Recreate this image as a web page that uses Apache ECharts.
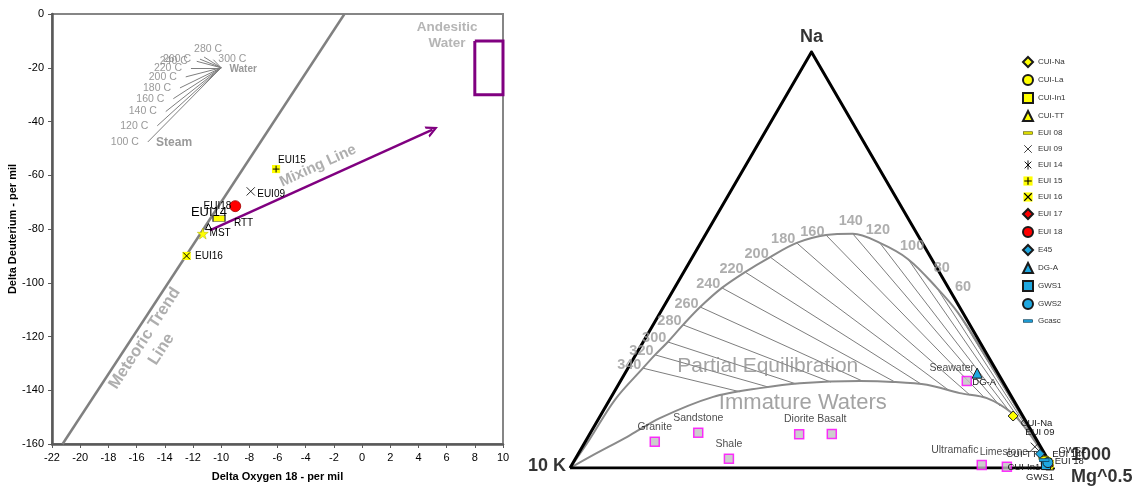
<!DOCTYPE html>
<html>
<head>
<meta charset="utf-8">
<title>Isotopes and Na-K-Mg diagram</title>
<script src="https://cdn.jsdelivr.net/npm/echarts@6.0.0/dist/echarts.min.js"></script>
<style>
html,body{margin:0;padding:0;background:#fff;}
#chart{width:1139px;height:487px;}
</style>
</head>
<body>
<div id="chart"></div>
<script>
// ---------- Stable isotopes: delta 18O vs delta D (per mil) ----------
const o18Axis = [-22, 10, 2];     // min, max, step
const ddAxis = [-160, 0, 20];

const sampleNames = ['EUI15', 'EUI09', 'EUI18', 'EUI14', 'RTT', 'MST', 'EUI16'];
const sampleO18 = [-6.1, -7.9, -9.0, -10.15, -10.9, -11.3, -12.45];
const sampleDD = [-57.7, -66.0, -71.5, -76.1, -79.1, -81.7, -90.0];

const meteoricO18 = [-21.25, -1.25];
const meteoricDD = [-160, 0];

const mixingO18 = [-10.8, 5.0];
const mixingDD = [-80.5, -43.0];

const andesiticO18 = [8, 10];
const andesiticDD = [-30, -10];

const waterO18 = -10.0;
const waterDD = -20.0;
const steamTemps = [100, 120, 140, 160, 180, 200, 220, 240, 260, 280, 300];
const steamO18 = [-15.2, -14.53, -13.93, -13.39, -12.92, -12.51, -12.14, -11.73, -11.5, -11.21, -10.55];
const steamDD = [-47.6, -41.6, -36.3, -31.5, -27.5, -23.4, -20.1, -17.6, -16.8, -16.0, -17.0];

// ---------- Na/1000 - K/100 - Mg^0.5 ternary (percent: [Na, K, Mg]) ----------
const fullEqHead = [[0, 100, 0], [6.7, 92.7, 0.6], [16.4, 82.5, 1.1]];
const isothermTemps = [340, 320, 300, 280, 260, 240, 220, 200, 180, 160, 140, 120, 100, 80, 60];
const isothermPoints = [
  [24.0, 72.9, 3.1], [27.2, 68.8, 4.0], [30.3, 64.6, 5.1], [34.4, 59.4, 6.2], [38.7, 53.7, 7.6],
  [43.3, 46.9, 9.8], [47.1, 40.2, 12.7], [50.7, 33.2, 16.1], [54.1, 26.0, 19.9], [56.0, 19.0, 25.0],
  [56.3, 13.3, 30.4], [54.1, 8.8, 37.1], [50.2, 4.9, 44.9], [43.3, 2.4, 54.3], [37.3, 1.0, 61.7]
];
const fullEqTail = [[27.2, 0.5, 72.3], [17.6, 0.3, 82.1], [9.1, 0.2, 90.7], [0, 0, 100]];

const immatureCurve = [
  [0, 100, 0], [3.1, 93.7, 3.2], [7.5, 84.4, 8.1], [12.0, 75.4, 12.6], [17.1, 61.8, 21.1],
  [19.2, 51.1, 29.7], [20.4, 42.2, 37.4], [20.9, 29.5, 49.6], [20.7, 22.8, 56.5], [20.0, 16.1, 63.9],
  [18.0, 10.3, 71.7], [16.8, 5.3, 77.9], [13.2, 1.9, 84.9], [8.7, 0.8, 90.5], [0, 0, 100]
];

const rockNames = ['Granite', 'Sandstone', 'Shale', 'Diorite', 'Basalt', 'Ultramafic', 'Limestone', 'Seawater'];
const rockValues = [
  [6.3, 79.3, 14.4], [8.5, 69.2, 22.3], [2.2, 66.0, 31.8], [8.1, 48.5, 43.4],
  [8.2, 41.7, 50.1], [0.7, 14.4, 84.9], [0.3, 9.4, 90.3], [20.9, 7.4, 71.7]
];

const waterNames = ['CUI-Na', 'CUI-La', 'CUI-In1', 'CUI-TT', 'EUI 08', 'EUI 09', 'EUI 14', 'EUI 15',
  'EUI 16', 'EUI 17', 'EUI 18', 'E45', 'DG-A', 'GWS1', 'GWS2', 'Gcasc'];
const waterValues = [
  [12.5, 2.0, 85.5], [1.9, 0.7, 97.4], [1.2, 0.6, 98.2], [0.5, 0.4, 99.1], [2.4, 0.7, 96.9],
  [5.1, 1.2, 93.7], [1.4, 0.9, 97.7], [1.7, 0.4, 97.9], [1.0, 0.2, 98.8], [0.7, 0.5, 98.8],
  [1.0, 1.0, 98.0], [3.4, 1.0, 95.6], [22.8, 4.3, 72.9], [0.7, 1.1, 98.2], [1.3, 0.4, 98.3],
  [1.9, 0.9, 97.2]
];

// ---------- helpers ----------
const FONT = '"Liberation Sans", Arial, sans-serif';
const H = Math.sqrt(3) / 2;
function toXY(t) {
  const s = t[0] + t[1] + t[2];
  const n = t[0] / s, m = t[2] / s;
  return [100 * (m + n / 2), 100 * n * H];
}
function svgSym(body) {
  return 'image://data:image/svg+xml;charset=utf-8,' + encodeURIComponent(
    '<svg xmlns="http://www.w3.org/2000/svg" width="48" height="48" viewBox="0 0 24 24">' + body + '</svg>');
}
const SYM = {
  cross: svgSym('<path d="M3 3L21 21M21 3L3 21" stroke="#000" stroke-width="1.8" fill="none"/>'),
  aster: svgSym('<path d="M4 4L20 20M20 4L4 20M12 1V23" stroke="#000" stroke-width="2.2" fill="none"/>'),
  plusBox: svgSym('<rect x="1" y="1" width="22" height="22" fill="#ffff00"/><path d="M12 3V21M3 12H21" stroke="#000" stroke-width="2.6"/>'),
  crossBox: svgSym('<rect x="1" y="1" width="22" height="22" fill="#ffff00"/><path d="M3 3L21 21M21 3L3 21" stroke="#000" stroke-width="2.6"/>'),
  dashY: svgSym('<rect x="1" y="9" width="22" height="6" fill="#e6e600" stroke="#5a5a00" stroke-width="1.6"/>'),
  dashB: svgSym('<rect x="1" y="9" width="22" height="6" fill="#1fa2dc" stroke="#0d3c55" stroke-width="1.6"/>')
};
// open arrow head (tip at the top of the path box)
const OPEN_ARROW = 'path://M0,12 L6,0 L12,12 L9.6,12 L6,4.8 L2.4,12 Z';
const YEL = '#ffff00', RED = '#ff0000', BLUE = '#1fa8e0';

// tie line from an isotherm point toward the Mg apex, stopped at the immature-water curve
function tieEnd(p, target, poly) {
  const d = [target[0] - p[0], target[1] - p[1]];
  let best = 1;
  for (let i = 0; i < poly.length - 1; i++) {
    const a = poly[i], b = poly[i + 1];
    const e = [b[0] - a[0], b[1] - a[1]];
    const den = d[0] * e[1] - d[1] * e[0];
    if (Math.abs(den) < 1e-9) continue;
    const t = ((a[0] - p[0]) * e[1] - (a[1] - p[1]) * e[0]) / den;
    const u = ((a[0] - p[0]) * d[1] - (a[1] - p[1]) * d[0]) / den;
    if (u >= 0 && u <= 1 && t > 1e-4 && t < best) best = t;
  }
  return [p[0] + d[0] * best, p[1] + d[1] * best];
}

const series = [];
const L = { xAxisIndex: 0, yAxisIndex: 0 };
const T = { xAxisIndex: 1, yAxisIndex: 1 };
const GRAY_TXT = '#9a9a9a';

// ---------- left panel ----------
series.push(Object.assign({
  type: 'line', data: meteoricO18.map((x, i) => [x, meteoricDD[i]]), symbol: 'none',
  lineStyle: { color: '#808080', width: 2.5 }, silent: true, z: 2
}, L));

series.push(Object.assign({
  type: 'lines', coordinateSystem: 'cartesian2d', silent: true, z: 2,
  data: steamTemps.map((t, i) => ({ coords: [[steamO18[i], steamDD[i]], [waterO18, waterDD]] })),
  lineStyle: { color: '#7f7f7f', width: 1, opacity: 1 }
}, L));

function steamLabel(t) {
  if (t === 280) return { position: 'top', distance: 2, offset: [4, 0] };
  if (t === 300) return { position: 'right', distance: 5, offset: [0, -1] };
  return { position: 'left', distance: 9 };
}
series.push(Object.assign({
  type: 'scatter', symbolSize: 0, silent: true, z: 3,
  data: steamTemps.map((t, i) => ({ value: [steamO18[i], steamDD[i]], label: steamLabel(t) })),
  label: { show: true, color: '#808080', fontSize: 10.5, fontFamily: FONT,
    formatter: p => steamTemps[p.dataIndex] + ' C' }
}, L));

series.push(Object.assign({
  type: 'scatter', symbolSize: 0, silent: true, z: 3,
  data: [
    { value: [waterO18, waterDD], label: { formatter: 'Water', position: 'right', distance: 12, offset: [10, 1], fontSize: 10, color: '#808080' } },
    { value: [-13.34, -48.0], label: { formatter: 'Steam', position: 'inside', fontSize: 12, color: '#808080' } },
    { value: [6.03, -7.76], label: { formatter: 'Andesitic\nWater', position: 'inside', fontSize: 13.5, lineHeight: 16, color: '#a3a3a3' } },
    { value: [-3.13, -56.5], label: { formatter: 'Mixing Line', position: 'inside', fontSize: 15, rotate: 24.5, color: GRAY_TXT } },
    { value: [-14.83, -122.7], label: { formatter: 'Meteoric Trend\nLine', position: 'inside', fontSize: 16.5, lineHeight: 20, rotate: 57, color: GRAY_TXT } }
  ],
  label: { show: true, fontWeight: 'bold', fontFamily: FONT, align: 'center', verticalAlign: 'middle' }
}, L));

series.push(Object.assign({
  type: 'line', silent: true, symbol: 'none', z: 3,
  data: [[andesiticO18[0], andesiticDD[1]], [andesiticO18[1], andesiticDD[1]], [andesiticO18[1], andesiticDD[0]],
         [andesiticO18[0], andesiticDD[0]], [andesiticO18[0], andesiticDD[1]]],
  lineStyle: { color: '#800080', width: 3, join: 'miter' }
}, L));

series.push(Object.assign({
  type: 'lines', coordinateSystem: 'cartesian2d', silent: true, z: 3,
  data: [{ coords: [[mixingO18[0], mixingDD[0]], [mixingO18[1], mixingDD[1]]] }],
  symbol: ['none', OPEN_ARROW], symbolSize: 12,
  lineStyle: { color: '#800080', width: 2.5, opacity: 1 }
}, L));

const leftStyles = {
  EUI15: { symbol: SYM.plusBox, symbolSize: 9, label: { position: 'right', offset: [-7.5, -9] } },
  EUI09: { symbol: SYM.cross, symbolSize: 11, label: { position: 'right', offset: [-4, 3] } },
  EUI18: { symbol: 'circle', symbolSize: 11, itemStyle: { color: RED, borderColor: '#a00000', borderWidth: 0.8 },
           label: { position: 'left', offset: [7, 0] } },
  EUI14: { symbol: 'rect', symbolSize: [12, 6], itemStyle: { color: YEL, borderColor: '#404040', borderWidth: 1 },
           label: { position: 'top', offset: [-10, 9], fontSize: 13 } },
  RTT: { symbol: 'triangle', symbolSize: 6, itemStyle: { color: '#ffffff', borderColor: '#000', borderWidth: 1 },
         label: { position: 'right', offset: [17, -3.5] } },
  MST: { symbol: 'path://M50,0 L61,35 L98,35 L68,57 L79,91 L50,70 L21,91 L32,57 L2,35 L39,35 Z', symbolSize: 11,
         itemStyle: { color: YEL, borderColor: '#b0b000', borderWidth: 0.5 }, label: { position: 'right', offset: [-4, 0] } },
  EUI16: { symbol: SYM.crossBox, symbolSize: 9, label: { position: 'right', offset: [-1, 0] } }
};
series.push(Object.assign({
  type: 'scatter', z: 6, silent: true,
  data: sampleNames.map((n, i) => {
    const s = leftStyles[n];
    return { name: n, value: [sampleO18[i], sampleDD[i]], symbol: s.symbol, symbolSize: s.symbolSize,
      itemStyle: Object.assign({ color: YEL, opacity: 1 }, s.itemStyle || {}),
      label: Object.assign({ show: true, distance: 5, formatter: n }, s.label) };
  }),
  label: { color: '#000', fontSize: 10, fontFamily: FONT }
}, L));

// ---------- ternary panel ----------
const vK = toXY([0, 100, 0]), vMg = toXY([0, 0, 100]), vNa = toXY([100, 0, 0]);

const fullEqXY = fullEqHead.concat(isothermPoints, fullEqTail).map(toXY);
const immatureXY = immatureCurve.map(toXY);
const isoXY = isothermPoints.map(toXY);

series.push(Object.assign({
  type: 'lines', coordinateSystem: 'cartesian2d', silent: true, z: 2,
  data: isoXY.map(p => ({ coords: [p, tieEnd(p, vMg, immatureXY)] })),
  lineStyle: { color: '#6e6e6e', width: 0.9, opacity: 1 }
}, T));

series.push(Object.assign({
  type: 'line', data: fullEqXY, symbol: 'none', smooth: 0.35, silent: true, z: 3,
  lineStyle: { color: '#8a8a8a', width: 2 }
}, T));
series.push(Object.assign({
  type: 'line', data: immatureXY, symbol: 'none', smooth: 0.3, silent: true, z: 3,
  lineStyle: { color: '#8a8a8a', width: 2 }
}, T));

series.push(Object.assign({
  type: 'line', data: [vK, vMg, vNa, vK], symbol: 'none', silent: true, z: 4,
  lineStyle: { color: '#000', width: 3, join: 'miter' }
}, T));

function isoLabel(t) {
  if (t >= 160) return { position: 'left', distance: 1.5, offset: [0, -3.5] };
  if (t >= 120) return { position: 'top', distance: 5, offset: [-2, 0] };
  if (t === 100) return { position: 'top', distance: 6, offset: [4, 0] };
  if (t === 80) return { position: 'top', distance: 12, offset: [5, 0] };
  return { position: 'top', distance: 18, offset: [5, 0] };
}
series.push(Object.assign({
  type: 'scatter', symbolSize: 0, silent: true, z: 5,
  data: isoXY.map((p, i) => ({ value: p, label: isoLabel(isothermTemps[i]) })),
  label: { show: true, color: '#9a9a9a', fontWeight: 'bold', fontSize: 14.5, fontFamily: FONT,
    formatter: p => String(isothermTemps[p.dataIndex]) }
}, T));

series.push(Object.assign({
  type: 'scatter', symbolSize: 0, silent: true, z: 5,
  data: [
    { value: toXY([24.5, 46.8, 28.7]), label: { formatter: 'Partial Equilibration', fontSize: 21 } },
    { value: toXY([15.6, 44.0, 40.4]), label: { formatter: 'Immature Waters', fontSize: 22 } }
  ],
  label: { show: true, position: 'inside', color: '#8c8c8c', fontFamily: FONT, align: 'center', verticalAlign: 'middle' }
}, T));

series.push(Object.assign({
  type: 'scatter', symbolSize: 0, silent: true, z: 5,
  data: [
    { value: vNa, label: { formatter: 'Na', position: 'top', distance: 6 } },
    { value: vK, label: { formatter: '10 K', position: 'left', distance: 4, offset: [0, -2] } },
    { value: vMg, label: { formatter: '1000\nMg^0.5', position: 'right', distance: 18, offset: [0, -2], align: 'left', lineHeight: 22 } }
  ],
  label: { show: true, color: '#000', fontWeight: 'bold', fontSize: 18, fontFamily: FONT }
}, T));

function rockLabel(n) {
  if (n === 'Ultramafic') return { position: 'top', distance: 4, offset: [-27, 0] };
  if (n === 'Limestone') return { position: 'top', distance: 4, offset: [-3, 0] };
  if (n === 'Seawater') return { position: 'top', distance: 4, offset: [-15, 2] };
  return { position: 'top', distance: 4 };
}
series.push(Object.assign({
  type: 'scatter', symbol: 'rect', symbolSize: 9, silent: true, z: 6,
  data: rockNames.map((n, i) => ({ name: n, value: toXY(rockValues[i]), label: rockLabel(n) })),
  itemStyle: { color: '#c0c0c0', borderColor: '#ff00ff', borderWidth: 1.5 },
  label: { show: true, color: '#1a1a1a', fontSize: 10.5, fontFamily: FONT, formatter: '{b}' }
}, T));

const waterStyles = {
  'CUI-Na': { symbol: 'diamond', size: 10, color: YEL, label: { position: 'right', distance: 4, offset: [-2, 7] } },
  'CUI-La': { symbol: 'circle', size: 9, color: YEL },
  'CUI-In1': { symbol: 'rect', size: 9, color: YEL, label: { position: 'left', distance: 2, offset: [0, 4] } },
  'CUI-TT': { symbol: 'triangle', size: 8, color: YEL, label: { position: 'left', distance: 8, offset: [0, -12] } },
  'EUI 08': { symbol: SYM.dashY, size: 11 },
  'EUI 09': { symbol: SYM.cross, size: 11, label: { position: 'top', distance: 4, offset: [5, 0] } },
  'EUI 14': { symbol: SYM.aster, size: 10, label: { position: 'right', distance: 2, offset: [0, -8] } },
  'EUI 15': { symbol: SYM.plusBox, size: 9 },
  'EUI 16': { symbol: SYM.crossBox, size: 9 },
  'EUI 17': { symbol: 'diamond', size: 9, color: RED },
  'EUI 18': { symbol: 'circle', size: 9, color: RED, label: { position: 'right', distance: 4, offset: [0, -2] } },
  'E45': { symbol: 'diamond', size: 9, color: BLUE },
  'DG-A': { symbol: 'triangle', size: 10, color: BLUE, label: { position: 'inside', offset: [7, 9] } },
  'GWS1': { symbol: 'rect', size: 9, color: BLUE, label: { position: 'bottom', distance: 2, offset: [-6, 0] } },
  'GWS2': { symbol: 'circle', size: 10, color: BLUE, label: { position: 'right', distance: 5, offset: [0, -12] } },
  'Gcasc': { symbol: SYM.dashB, size: 11 }
};
waterNames.forEach((n, i) => {
  const s = waterStyles[n];
  series.push(Object.assign({
    name: n, type: 'scatter', symbol: s.symbol, symbolSize: s.size, silent: true, z: 7,
    data: [{ value: toXY(waterValues[i]), label: s.label ? Object.assign({ show: true, formatter: n }, s.label) : { show: false } }],
    itemStyle: { color: s.color || '#000', borderColor: '#1a1a1a', borderWidth: s.color ? 1 : 0, opacity: 1 },
    label: { color: '#1a1a1a', fontSize: 9.5, fontFamily: FONT }
  }, T));
});

const axisLineStyle = { color: '#595959', width: 2.5 };
const option = {
  animation: false,
  backgroundColor: '#ffffff',
  textStyle: { fontFamily: FONT },
  grid: [
    { left: 52, top: 14, width: 451, height: 433, show: true, borderColor: '#868686', borderWidth: 2, backgroundColor: 'transparent' },
    { left: 570, top: 52, width: 483, height: 416 }
  ],
  xAxis: [
    { gridIndex: 0, type: 'value', min: o18Axis[0], max: o18Axis[1], interval: o18Axis[2],
      axisLine: { show: true, onZero: false, lineStyle: axisLineStyle },
      axisTick: { show: true, length: 4, lineStyle: { color: '#595959', width: 1 } },
      axisLabel: { color: '#000', fontSize: 11, margin: 8, fontFamily: FONT },
      splitLine: { show: false },
      name: 'Delta Oxygen 18 - per mil', nameLocation: 'middle', nameGap: 27,
      nameTextStyle: { fontWeight: 'bold', fontSize: 11, color: '#000', fontFamily: FONT } },
    { gridIndex: 1, type: 'value', min: 0, max: 100, show: false }
  ],
  yAxis: [
    { gridIndex: 0, type: 'value', min: ddAxis[0], max: ddAxis[1], interval: ddAxis[2],
      axisLine: { show: true, onZero: false, lineStyle: axisLineStyle },
      axisTick: { show: true, length: 4, lineStyle: { color: '#595959', width: 1 } },
      axisLabel: { color: '#000', fontSize: 11, margin: 8, fontFamily: FONT },
      splitLine: { show: false },
      name: 'Delta Deuterium - per mil', nameLocation: 'middle', nameGap: 32,
      nameTextStyle: { fontWeight: 'bold', fontSize: 11, color: '#000', fontFamily: FONT } },
    { gridIndex: 1, type: 'value', min: 0, max: 100 * H, show: false }
  ],
  legend: {
    data: waterNames, orient: 'vertical', left: 1017, top: 51,
    itemWidth: 10, itemHeight: 10, itemGap: 6, selectedMode: false,
    textStyle: { fontSize: 8, color: '#333', fontFamily: FONT }
  },
  series: series
};

const chart = echarts.init(document.getElementById('chart'), null, { renderer: 'canvas' });
chart.setOption(option);
</script>
</body>
</html>
